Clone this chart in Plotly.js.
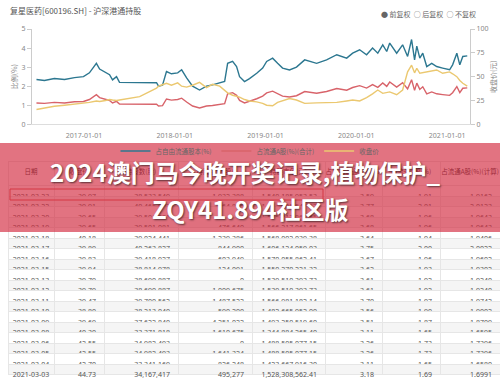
<!DOCTYPE html>
<html><head><meta charset="utf-8">
<script src="https://cdn.plot.ly/plotly-3.0.1.min.js"></script>
<style>html,body{margin:0;padding:0;background:#fff;}#chart{width:500px;height:379px;}</style>
</head><body><div id="chart"></div>
<script>
const dates = ['2016-06-24','2016-07-26','2016-09-04','2016-10-15','2016-11-24','2016-12-30','2017-01-23','2017-02-20','2017-03-05','2017-03-29',
'2017-04-14','2017-04-26','2017-05-12','2017-05-24','2017-08-13','2017-10-20','2017-10-28','2017-11-13','2017-11-29','2017-12-19',
'2018-01-13','2018-01-29','2018-02-18','2018-03-14','2018-04-11','2018-05-09','2018-06-02','2018-07-01','2018-07-21','2018-08-02',
'2018-08-22','2018-09-07','2018-09-19','2018-10-09','2018-10-29','2018-11-27','2018-12-21','2019-01-06','2019-01-30','2019-02-19',
'2019-03-11','2019-04-08','2019-05-06','2019-06-08','2019-07-26','2019-09-04','2019-10-15','2019-11-24','2019-12-18','2020-01-15',
'2020-02-12','2020-03-07','2020-03-28','2020-04-17','2020-05-03','2020-05-15','2020-06-12','2020-07-06','2020-07-26','2020-08-11',
'2020-08-23','2020-09-01','2020-09-13','2020-09-25','2020-10-11','2020-10-31','2020-11-20','2020-12-14','2021-01-11','2021-01-23',
'2021-02-09','2021-02-21','2021-03-05','2021-03-23'];
const freeFloatPct = [2.35,2.3,2.4,2.35,2.45,2.5,2.7,3.2,2.9,2.7,
2.6,2.33,2.5,2.2,2.2,2.18,2.0,2.05,2.77,2.65,
2.7,2.86,2.44,2.0,1.8,2.0,2.07,2.16,2.25,3.2,
3.3,3.03,2.5,2.24,2.4,2.68,2.95,3.3,3.47,3.2,
2.95,2.85,3.0,3.38,3.2,3.38,3.65,3.47,3.73,3.91,
3.65,4.0,3.73,4.17,3.82,4.26,3.73,4.17,3.56,4.45,
3.38,4.1,3.47,3.73,3.03,3.2,3.03,2.95,2.86,3.12,
3.73,3.12,3.56,3.59];
const floatAPct = [1.12,1.1,1.15,1.12,1.18,1.2,1.3,1.55,1.4,1.3,
1.25,1.12,1.2,1.06,1.06,1.05,0.96,0.98,1.33,1.27,
1.3,1.37,1.17,0.96,0.86,0.96,0.99,1.04,1.08,1.6,
1.66,1.52,1.25,1.12,1.2,1.34,1.48,1.65,1.74,1.6,
1.48,1.43,1.5,1.72,1.63,1.72,1.88,1.79,1.93,2.03,
1.9,2.08,1.94,2.17,1.99,2.22,1.95,2.18,1.86,2.34,
1.78,2.16,1.83,1.97,1.6,1.7,1.6,1.56,1.52,1.66,
1.98,1.66,1.89,1.91];
const closePrice = [15.5,17,19,20,21,22,23,24.5,24,25,
26,25.5,25,25.5,29,38,40,41.5,43,41,
43.5,40,39,41,44,38.5,42,40,36,33,
30.5,29.5,28.5,26,24.5,23.5,22,20,19.5,23,
25,27,25.5,22,22.5,22.5,23,24.5,25.5,24.5,
28,32,36,32.5,33,34,31,36,55,62,
54,58.8,53.5,54,55,56,57,53.5,55,53,
50,46,43,39.97];

const tableHeaders = ['日期','收盘价','持股数(股)','持股变动(股)','持股市值(元)','占自由流通股本(%)','占流通A股(%)','占流通A股(%)(计算)'];
const tblDate = ['2021-03-23','2021-03-22','2021-03-20','2021-03-19','2021-03-18','2021-03-17','2021-03-16','2021-03-15','2021-03-13','2021-03-12','2021-03-11','2021-03-10','2021-03-09','2021-03-08','2021-03-06','2021-03-05','2021-03-04','2021-03-03'];
const tblClose = ['39.97','39.91','39.65','39.65','40.18','39.89','39.83','39.94','39.79','39.79','39.47','38.80','39.69','40.30','42.55','42.55','42.70','44.73'];
const tblShares = ['38,533,549','40,465,937','39,501,081','39,501,081','39,024,441','40,263,827','39,418,927','38,814,978','38,690,887','38,690,887','39,700,562','38,213,040','37,622,840','33,371,818','34,982,493','34,982,493','33,341,169','34,167,417'];
const tblChange = ['-1,932,388','964,856','0','476,640','-1,239,386','844,900','603,949','124,091','0','-1,009,675','1,487,522','590,200','4,251,022','-1,610,675','0','1,641,324','-826,248','495,277'];
const tblValue = ['1,540,185,953.53','1,614,995,545.67','1,566,217,861.65','1,566,217,861.65','1,568,002,039.38','1,606,124,059.03','1,570,055,862.41','1,550,270,221.32','1,539,510,393.73','1,539,510,393.73','1,566,981,182.14','1,482,665,952.00','1,493,250,519.60','1,344,884,265.40','1,488,505,077.15','1,488,505,077.15','1,423,667,916.30','1,528,308,562.41'];
const tblFreePct = ['3.59','3.77','3.68','3.68','3.64','3.75','3.67','3.62','3.61','3.61','3.70','3.56','3.51','3.11','3.26','3.26','3.11','3.18'];
const tblAPct = ['1.91','2.01','1.96','1.96','1.94','2.00','1.96','1.93','1.92','1.92','1.97','1.90','1.87','1.65','1.73','1.73','1.65','1.69'];
const tblACalc = ['1.9162','2.0123','1.9643','1.9643','1.9406','2.0022','1.9602','1.9302','1.9240','1.9240','1.9742','1.9002','1.8709','1.6595','1.7396','1.7396','1.6580','1.6991'];

const H = 379, W = 500;
const py = v => 1 - v / H;
const px = v => v / W;
const rowFill = tblDate.map((_, i) => i % 2 ? '#f5f5f5' : '#ffffff');

const tickFont = {family: 'Noto Sans, Noto Sans CJK SC', size: 7, color: '#888'};

const traces = [
  {type: 'scatter', mode: 'lines', x: dates, y: freeFloatPct, name: '占自由流通股本(%)',
   line: {color: '#2c7790', width: 1.4}, xaxis: 'x', yaxis: 'y'},
  {type: 'scatter', mode: 'lines', x: dates, y: floatAPct, name: '占流通A股(%)(合计)',
   line: {color: '#d8636a', width: 1.4}, xaxis: 'x', yaxis: 'y'},
  {type: 'scatter', mode: 'lines', x: dates, y: closePrice, name: '收盘价',
   line: {color: '#ebc870', width: 1.4}, xaxis: 'x', yaxis: 'y2'},
  {type: 'table', domain: {x: [px(8), 1], y: [0, py(161.5)]},
   columnwidth: [46, 50, 74, 74, 73, 57, 58, 60],
   header: {values: tableHeaders, align: 'center', height: 24,
     fill: {color: '#ffffff'}, line: {color: '#e6e6e6', width: 1},
     font: {family: 'Noto Sans CJK SC', size: 6.5, color: '#333'}},
   cells: {values: [tblDate, tblClose, tblShares, tblChange, tblValue, tblFreePct, tblAPct, tblACalc],
     align: ['center','right','right','right','right','right','right','right'], height: 10.5,
     fill: {color: tableHeaders.map(() => rowFill)}, line: {color: '#e6e6e6', width: 1},
     font: {family: 'Noto Sans', size: 7, color: '#555'}},
   showlegend: false}
];

const layout = {
  width: W, height: H, margin: {l: 0, r: 0, t: 0, b: 0},
  paper_bgcolor: '#fff', plot_bgcolor: '#fff',
  showlegend: true,
  legend: {orientation: 'h', x: 0.5, xanchor: 'center', y: py(151), yanchor: 'middle',
    font: {family: 'Noto Sans CJK SC', size: 6.5, color: '#666'}, itemwidth: 30, bgcolor: 'rgba(0,0,0,0)'},
  xaxis: {domain: [px(32), px(470)], range: ['2016-06-06', '2021-04-03'], type: 'date',
    showline: true, linecolor: '#dddddd', linewidth: 1, showgrid: false, zeroline: false,
    ticks: '', dtick: 'M12', tick0: '2017-01-01', tickformat: '%Y-%m-%d', tickfont: tickFont,
    ticklabelstandoff: 4, anchor: 'y'},
  yaxis: {domain: [py(124.3), py(29)], range: [0, 5], dtick: 1, showline: true, linecolor: '#cccccc',
    showgrid: false, zeroline: false, ticks: 'outside', ticklen: 4, tickcolor: '#cccccc', tickfont: tickFont,
    title: {text: '比例(%)', font: {family: 'Noto Sans CJK SC', size: 7, color: '#888'}, standoff: 3}},
  yaxis2: {overlaying: 'y', side: 'right', range: [0, 100], dtick: 25, showline: true, linecolor: '#cccccc',
    showgrid: false, zeroline: false, ticks: 'outside', ticklen: 4, tickcolor: '#cccccc', tickfont: tickFont,
    anchor: 'x',
    title: {text: '收盘价(元)', font: {family: 'Noto Sans CJK SC', size: 7, color: '#888'}, standoff: 3}},
  shapes: [
    {type: 'rect', xref: 'paper', yref: 'paper', x0: px(10), x1: px(323), y0: py(200), y1: py(189),
     line: {color: '#d9534f', width: 1}, fillcolor: 'rgba(0,0,0,0)', layer: 'above'},
    {type: 'rect', xref: 'paper', yref: 'paper', x0: 0, x1: 1, y0: py(232), y1: py(143),
     line: {width: 0}, fillcolor: 'rgba(210,40,62,0.65)', layer: 'above'}
  ],
  annotations: [
    {xref: 'paper', yref: 'paper', x: px(8), y: py(11), xanchor: 'left', yanchor: 'middle', showarrow: false,
     text: '复星医药[600196.SH] - 沪深港通持股', font: {family: 'Noto Sans CJK SC', size: 8, color: '#555'}},
    {xref: 'paper', yref: 'paper', x: px(478), y: py(14), xanchor: 'right', yanchor: 'middle', showarrow: false,
     text: '● 前复权  ○ 后复权  ○ 不复权', font: {family: 'Noto Sans CJK SC', size: 7, color: '#666'}},
    {xref: 'paper', yref: 'paper', x: px(245), y: py(172), xanchor: 'center', yanchor: 'middle', showarrow: false,
     text: '2024澳门马今晚开奖记录,植物保护_',
     font: {family: 'Noto Sans CJK SC', size: 24, color: '#ffffff', weight: 'bold', shadow: '1px 1px 2px rgba(0,0,0,0.6)'}},
    {xref: 'paper', yref: 'paper', x: px(250), y: py(208), xanchor: 'center', yanchor: 'middle', showarrow: false,
     text: 'ZQY41.894社区版',
     font: {family: 'Noto Sans CJK SC', size: 24, color: '#ffffff', weight: 'bold', shadow: '1px 1px 2px rgba(0,0,0,0.6)'}}
  ]
};

Plotly.newPlot('chart', traces, layout, {displayModeBar: false, staticPlot: true});
</script>
</body></html>
